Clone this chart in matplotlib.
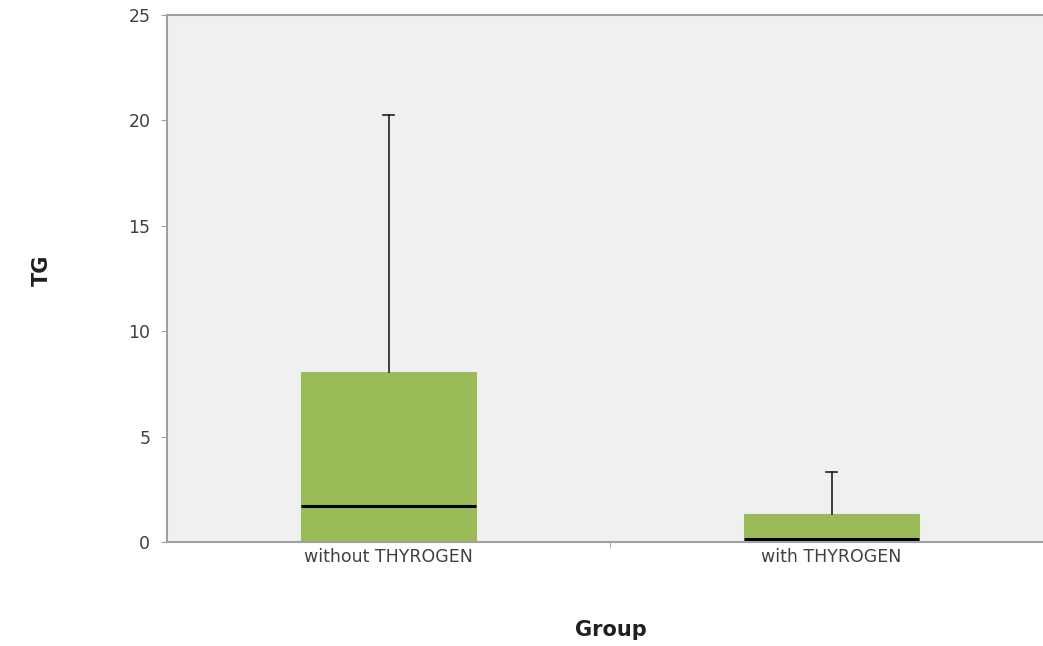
import matplotlib

matplotlib.use("Agg")
import matplotlib.pyplot as plt  # noqa: E402

# Box plot summary values
groups = ["without THYROGEN", "with THYROGEN"]
q1 = [0.0, 0.05]
median = [1.72, 0.15]
q3 = [8.06, 1.33]
whisker_lo = [0.0, 0.05]
whisker_hi = [20.25, 3.32]

BOX_GREEN = "#9bbb59"
AXIS_GREY = "#a0a0a0"
TEXT_GREY = "#404040"

stats = [
    {"label": g, "q1": a, "med": m, "q3": b, "whislo": lo, "whishi": hi,
     "fliers": []}
    for g, a, m, b, lo, hi in zip(groups, q1, median, q3, whisker_lo, whisker_hi)
]

fig = plt.figure(figsize=(10.43, 6.46), dpi=100)
ax = fig.add_axes([167 / 1043, 1 - 542 / 646, 886 / 1043, 527 / 646])
ax.set_facecolor("#f0f0f0")

art = ax.bxp(
    stats, positions=range(len(groups)), widths=0.397, patch_artist=True,
    showfliers=False,
    boxprops=dict(facecolor=BOX_GREEN, edgecolor=BOX_GREEN, linewidth=0.8),
    medianprops=dict(color="black", linewidth=2.2),
    whiskerprops=dict(color="#202020", linewidth=1.2),
    capprops=dict(color="#202020", linewidth=1.2),
    capwidths=0.025,
)
# only the upper caps are visible in the reference
for i, cap in enumerate(art["caps"]):
    if i % 2 == 0:
        cap.set_visible(False)

ax.set_xlim(-0.5, 1.5)
ax.set_ylim(0, 25)
ax.set_yticks([0, 5, 10, 15, 20, 25])
ax.set_xticks([0, 1])
ax.set_xticklabels(groups)
ax.set_xticks([0.5], minor=True)

for side in ("left", "top", "bottom"):
    ax.spines[side].set_color(AXIS_GREY)
    ax.spines[side].set_linewidth(1.5)
ax.spines["right"].set_visible(False)

ax.tick_params(axis="y", colors=AXIS_GREY, labelcolor=TEXT_GREY,
               labelsize=12.5, length=4, pad=8)
ax.tick_params(axis="x", which="major", length=0, labelcolor=TEXT_GREY,
               labelsize=12.5, pad=4)
ax.tick_params(axis="x", which="minor", colors=AXIS_GREY, length=4)

fig.text(42 / 1043, 1 - 270 / 646, "TG", rotation=90, ha="center",
         va="center", fontsize=15, fontweight="bold", color="#202020")
fig.text(611 / 1043, 1 - 630 / 646, "Group", ha="center", va="center",
         fontsize=15, fontweight="bold", color="#202020")

fig.savefig("out.png", dpi=100)
plt.close(fig)
